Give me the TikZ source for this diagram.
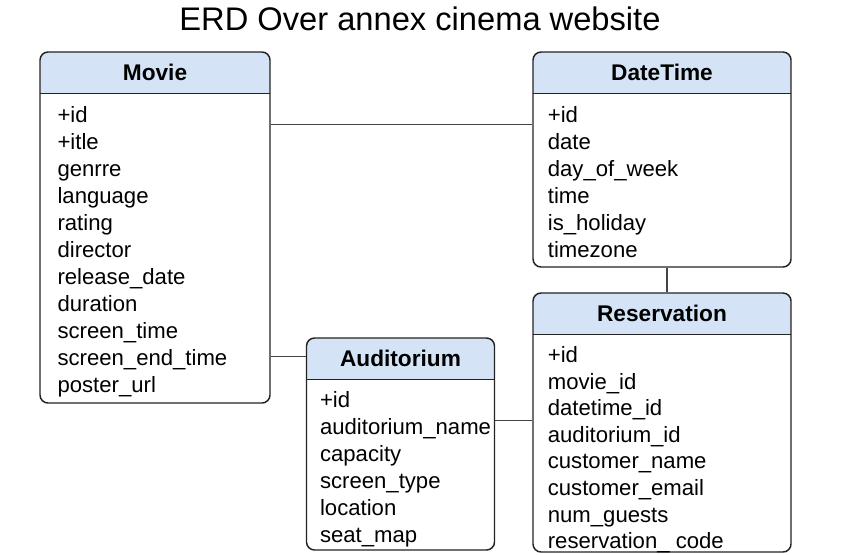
\documentclass[tikz,border=0pt]{standalone}
\usepackage{fontspec}
\setmainfont{Liberation Sans}
\definecolor{hdrfill}{RGB}{213,227,247}
\definecolor{edge}{RGB}{35,35,35}
\tikzset{
  entity/.style={draw=edge, line width=1.1pt, rounded corners=6pt, fill=white,
    path picture={
      \fill[hdrfill, sharp corners] (path picture bounding box.north west)
        rectangle ([yshift=-31pt]path picture bounding box.north east);
      \draw[edge, line width=1.1pt, sharp corners] ([yshift=-31pt]path picture bounding box.north west)
        -- ([yshift=-31pt]path picture bounding box.north east);
    }},
  ename/.style={font=\fontsize{17}{20}\selectfont\bfseries, inner sep=0pt},
  attrs/.style={anchor=north west, align=left, inner sep=0pt,
    font=\fontsize{16.6}{20.25}\selectfont},
  link/.style={draw=edge!85, line width=0.9pt},
  heading/.style={font=\fontsize{24.5}{28}\selectfont, inner sep=0pt},
}

\begin{document}
\begin{tikzpicture}[x=0.75pt, y=-0.75pt]
  \useasboundingbox (0,0) rectangle (846,554);
  \node[heading] (ttl) at (420,19) {ERD Over annex cinema website};

  % entities
  \node[entity, minimum width=172.5pt, minimum height=263.25pt] (movie) at (155,227.5) {};
  \node[ename] (movie-n) at ([yshift=-15.5pt]movie.north) {Movie};
  \node[attrs] (movie-a) at ([xshift=13.5pt, yshift=-41.2pt]movie.north west)
    {+id\\+itle\\genrre\\language\\rating\\director\\release\_date\\duration\\screen\_time\\screen\_end\_time\\poster\_url};

  \node[entity, minimum width=193.5pt, minimum height=161.25pt] (datetime) at (662,159.5) {};
  \node[ename] (datetime-n) at ([yshift=-15.5pt]datetime.north) {DateTime};
  \node[attrs] (datetime-a) at ([xshift=11.5pt, yshift=-41.2pt]datetime.north west)
    {+id\\date\\day\_of\_week\\time\\is\_holiday\\timezone};

  \node[entity, minimum width=193.5pt, minimum height=194.25pt] (reservation) at (662,422.5) {};
  \node[ename] (reservation-n) at ([yshift=-15.5pt]reservation.north) {Reservation};
  \node[attrs, font=\fontsize{16.6}{19.9}\selectfont] (reservation-a) at ([xshift=11.5pt, yshift=-40.7pt]reservation.north west)
    {+id\\movie\_id\\datetime\_id\\auditorium\_id\\customer\_name\\customer\_email\\num\_guests\\reservation\_ code};

  \node[entity, minimum width=141pt, minimum height=159pt] (auditorium) at (400.5,444) {};
  \node[ename] (auditorium-n) at ([yshift=-15.5pt]auditorium.north) {Auditorium};
  \node[attrs] (auditorium-a) at ([xshift=10.5pt, yshift=-40.7pt]auditorium.north west)
    {+id\\auditorium\_name\\capacity\\screen\_type\\location\\seat\_map};

  % relations
  \draw[link] ([yshift=-54.75pt]movie.north east) -- ([yshift=-54.75pt]datetime.north west);
  \draw[link] ([xshift=3.75pt]datetime.south) -- ([xshift=3.75pt]reservation.north);
  \draw[link] ([yshift=-228.75pt]movie.north east) -- ([yshift=-14.25pt]auditorium.north west);
  \draw[link] ([yshift=-62.25pt]auditorium.north east) -- ([yshift=-96pt]reservation.north west);
\end{tikzpicture}
\end{document}
